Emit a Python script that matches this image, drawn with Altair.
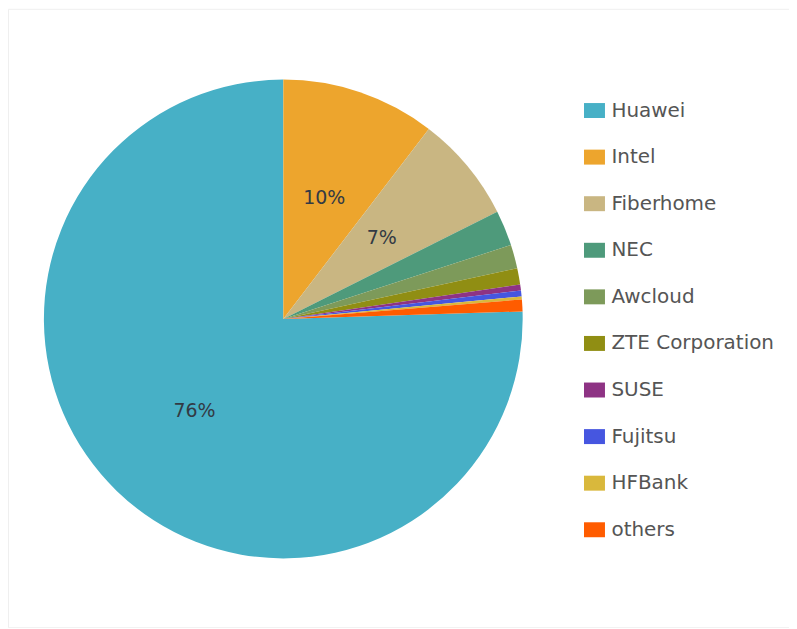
import altair as alt
import pandas as pd

vendors = ["Huawei", "Intel", "Fiberhome", "NEC", "Awcloud", "ZTE Corporation",
           "SUSE", "Fujitsu", "HFBank", "others"]
shares = [75.5, 10.4, 7.2, 2.4, 1.6, 1.1, 0.4, 0.4, 0.2, 0.8]
# draw order clockwise from 12 o'clock
draw_order = [10, 1, 2, 3, 4, 5, 6, 7, 8, 9]
colors = ["#47b0c6", "#eda52d", "#c9b682", "#4e9a7b", "#7d9a5a", "#908e13",
          "#8e3384", "#4656e0", "#d9b83c", "#ff5c00"]

df = pd.DataFrame({"vendor": vendors, "share": shares, "ord": draw_order})
total = sum(shares)
df["label"] = [f"{int(s / total * 100 + 0.5)}%" if s >= 5 else "" for s in shares]

cx, cy = 276, 311

base = alt.Chart(df).encode(
    theta=alt.Theta("share:Q", stack=True),
    order=alt.Order("ord:Q"),
    x=alt.value(cx),
    y=alt.value(cy),
)

pie = base.mark_arc(outerRadius=240).encode(
    color=alt.Color(
        "vendor:N",
        scale=alt.Scale(domain=vendors, range=colors),
        legend=alt.Legend(
            title=None,
            orient="none",
            legendX=573,
            legendY=87,
            symbolType="M-0.7,-0.5L0.7,-0.5L0.7,0.5L-0.7,0.5Z",
            symbolSize=900,
            symbolStrokeWidth=0,
            labelFontSize=20,
            labelFont="DejaVu Sans",
            labelColor="#555555",
            rowPadding=21.7,
            labelOffset=2,
            labelLimit=300,
        ),
    )
)

labels = base.mark_text(radius=128, fontSize=19, font="DejaVu Sans", color="#333a44").encode(
    text="label:N"
)

chart = (pie + labels).properties(width=783, height=620, padding=0).configure_view(
    stroke="#efefef", strokeWidth=1
)

chart.save("out.html", embed_options={"renderer": "svg", "actions": False})
